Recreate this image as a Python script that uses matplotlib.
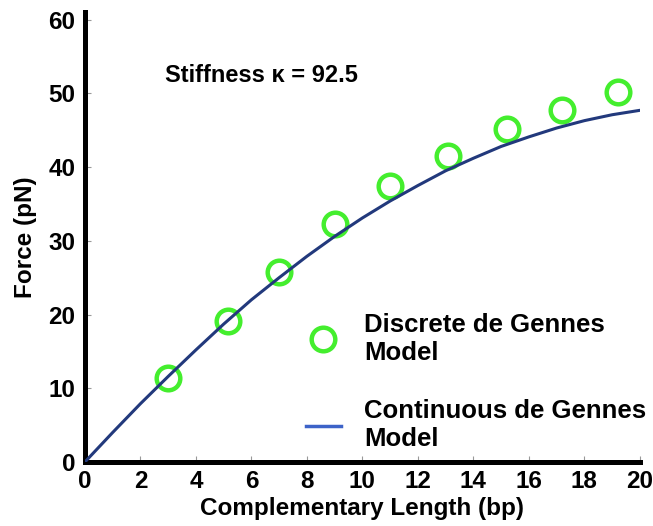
import matplotlib
matplotlib.use("Agg")
import matplotlib.pyplot as plt
from matplotlib.lines import Line2D

plt.rcParams["font.family"] = ["Liberation Sans", "DejaVu Sans"]
plt.rcParams["font.weight"] = "bold"

# discrete de Gennes model
longueur_discrete = [3.0, 5.15, 7.0, 9.0, 11.0, 13.1, 15.2, 17.2, 19.2]
force_discrete = [11.4, 19.1, 25.8, 32.3, 37.4, 41.5, 45.2, 47.8, 50.2]

# continuous de Gennes model (curve read at integer lengths)
longueur_continue = [0, 1, 2, 3, 4, 5, 6, 7, 8, 9, 10,
                     11, 12, 13, 14, 15, 16, 17, 18, 19, 20]
force_continue = [0.0, 4.0, 7.9, 11.6, 15.2, 18.7, 22.0, 25.0, 27.9, 30.6, 33.1,
                  35.4, 37.5, 39.5, 41.2, 42.8, 44.1, 45.3, 46.3, 47.1, 47.7]

ticks_x = [0, 2, 4, 6, 8, 10, 12, 14, 16, 18, 20]
ticks_y = [0, 10, 20, 30, 40, 50, 60]

VERT = "#44ee2e"
BLEU_COURBE = "#22397c"
BLEU_LEGENDE = "#3d63c8"

fig = plt.figure(figsize=(6.53, 5.26), dpi=100)
ax = fig.add_axes([0.130, 0.1217, 0.850, 0.855])

ax.plot(longueur_discrete, force_discrete, linestyle="none", marker="o",
        markersize=17, markerfacecolor="none", markeredgecolor=VERT,
        markeredgewidth=3.2, zorder=2, clip_on=False)
ax.plot(longueur_continue, force_continue, color=BLEU_COURBE, linewidth=2.2,
        zorder=3, solid_capstyle="round")

ax.set_xlim(0, 20)
ax.set_ylim(0, 61)
ax.set_xticks(ticks_x)
ax.set_yticks(ticks_y)

for cote in ["top", "right"]:
    ax.spines[cote].set_visible(False)
for cote in ["left", "bottom"]:
    ax.spines[cote].set_linewidth(3.6)

ax.tick_params(axis="both", direction="in", length=4, width=0.8,
               color="#999999", labelsize=17.5)
ax.tick_params(axis="x", pad=6)
ax.tick_params(axis="y", pad=7)
for lab in ax.get_xticklabels() + ax.get_yticklabels():
    lab.set_fontweight("bold")

ax.set_xlabel("Complementary Length (bp)", fontsize=17.5, fontweight="bold", labelpad=3)
ax.set_ylabel("Force (pN)", fontsize=17.5, fontweight="bold", labelpad=8)

ax.text(2.9, 52.4, "Stiffness κ = 92.5", fontsize=17, fontweight="bold",
        va="center", ha="left")

poignees = [
    Line2D([], [], linestyle="none", marker="o", markersize=17,
           markerfacecolor="none", markeredgecolor=VERT, markeredgewidth=3.2),
    Line2D([], [], color=BLEU_LEGENDE, linewidth=2.5),
]
leg = fig.legend(poignees, ["Discrete de Gennes\nModel", "Continuous de Gennes\nModel"],
                 loc="upper left", bbox_to_anchor=(306 / 653, 1 - 313 / 526),
                 frameon=False, fontsize=18.5, handlelength=1.35,
                 handletextpad=0.9, labelspacing=1.35, borderpad=0,
                 borderaxespad=0)
for t in leg.get_texts():
    t.set_fontweight("bold")

fig.savefig("out.png", dpi=100)
